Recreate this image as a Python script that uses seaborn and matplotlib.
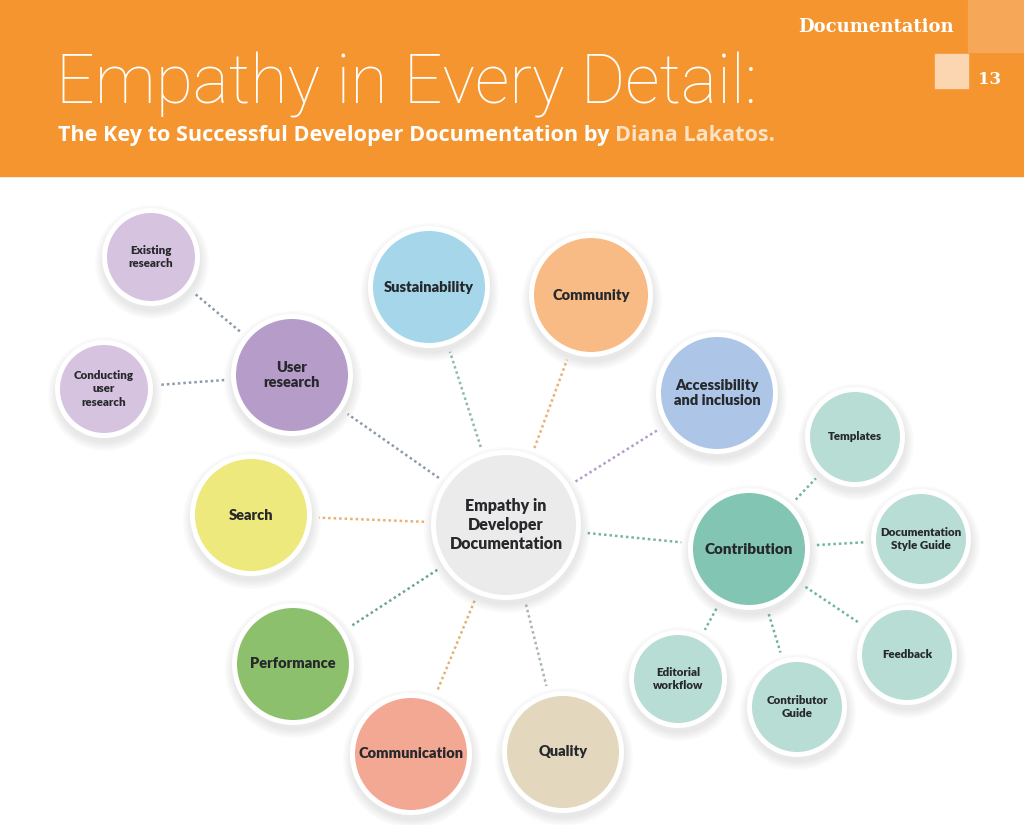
import matplotlib
matplotlib.use("Agg")
import matplotlib.pyplot as plt
from matplotlib.patches import Circle, Rectangle
import seaborn as sns
import numpy as np

sns.set_theme(style="white")
plt.rcParams['font.family'] = ['DejaVu Sans']

# ---- content ----
labels = ["Empathy in\nDeveloper\nDocumentation", "User\nresearch", "Existing\nresearch",
          "Conducting\nuser\nresearch", "Sustainability", "Community",
          "Accessibility\nand inclusion", "Search", "Performance", "Communication",
          "Quality", "Contribution", "Templates", "Documentation\nStyle Guide",
          "Feedback", "Contributor\nGuide", "Editorial\nworkflow"]
parents = [None, 0, 1, 1, 0, 0, 0, 0, 0, 0, 0, 0, 11, 11, 11, 11, 11]
levels = [0, 1, 2, 2, 1, 1, 1, 1, 1, 1, 1, 1, 2, 2, 2, 2, 2]

# ---- layout (pixel coordinates of the page) ----
node_x = [506, 292, 151, 104, 429, 591, 717, 251, 293, 411, 563, 749, 855, 921, 907, 797, 678]
node_y = [525, 375, 257, 389, 287, 295, 393, 515, 664, 754, 752, 549, 437, 539, 655, 707, 679]
node_r = [70, 56, 44, 44, 56, 57, 56, 56, 56, 56, 56, 56, 45, 45, 45, 45, 44]
fills = ["#ebebeb", "#b59cc9", "#d6c3e0", "#d6c3e0", "#a6d6ea", "#f8bb86", "#adc6e8",
         "#ede97c", "#8dc06d", "#f2a893", "#e3d8bd", "#82c5b3", "#b7ddd5", "#b7ddd5",
         "#b7ddd5", "#b7ddd5", "#b7ddd5"]
edge_cols = [None, "#8a9aaa", "#8a9aaa", "#8a9aaa", "#8fb8b5", "#eab071", "#b49ad0",
             "#eab071", "#6ea39a", "#e3b072", "#a9b5b5", "#74b3a6", "#6fb3a6", "#6fb3a6",
             "#6fb3a6", "#6fb3a6", "#6fb3a6"]
font_sizes = [11.5, 10.5, 8.3, 8.3, 10.5, 10.5, 10.5, 10.5, 10.5, 10.5, 10.5, 11, 8.3, 8.3, 8.3, 8.3, 8.3]

W, H = 1024, 825
fig = plt.figure(figsize=(W / 100, H / 100), dpi=100)
ax = fig.add_axes([0, 0, 1, 1])
ax.set_xlim(0, W)
ax.set_ylim(H, 0)
ax.set_aspect("equal")
ax.axis("off")
fig.patch.set_facecolor("white")

# ---- header ----
orange = "#f4952f"
ax.add_patch(Rectangle((0, 0), W, 176, color=orange, zorder=1))
ax.add_patch(Rectangle((968, 0), 56, 52, color="#f6a758", zorder=2))
ax.add_patch(Rectangle((935, 54), 33, 34, color="#fbd6b0", zorder=2))
ax.text(954, 27, "Documentation", color="white", fontsize=13, fontweight="bold",
        family="DejaVu Serif", ha="right", va="center", zorder=3)
ax.text(990, 80, "13", color="white", fontsize=12, fontweight="bold",
        family="DejaVu Serif", ha="center", va="center", zorder=3)
ax.text(56, 103, "Empathy in Every Detail:", color="white", fontsize=49,
        family=["Roboto", "DejaVu Sans"], fontweight="light", ha="left",
        va="baseline", zorder=3)
sub = ax.text(58, 141, "The Key to Successful Developer Documentation by ", color="white",
              fontsize=15.6, fontweight="bold", family=["Open Sans", "DejaVu Sans"],
              ha="left", va="baseline", zorder=3)
fig.canvas.draw()
bb = sub.get_window_extent().transformed(ax.transData.inverted())
ax.text(bb.x1, 141, "Diana Lakatos.", color="#fde2c4", fontsize=15.6, fontweight="bold",
        family=["Open Sans", "DejaVu Sans"], ha="left", va="baseline", zorder=3)

# ---- edges ----
for i, p in enumerate(parents):
    if p is None:
        continue
    x0, y0, r0 = node_x[p], node_y[p], node_r[p]
    x1, y1, r1 = node_x[i], node_y[i], node_r[i]
    d = np.hypot(x1 - x0, y1 - y0)
    ux, uy = (x1 - x0) / d, (y1 - y0) / d
    g = 12
    ax.plot([x0 + ux * (r0 + g), x1 - ux * (r1 + g)],
            [y0 + uy * (r0 + g), y1 - uy * (r1 + g)],
            linestyle=(0, (1, 1.2)), linewidth=1.8, color=edge_cols[i], zorder=2)

# ---- nodes ----
for i in range(len(labels)):
    x, y, r = node_x[i], node_y[i], node_r[i]
    for k in range(6):
        ax.add_patch(Circle((x + 1, y + 5), r + 5 + k * 1.6, color="#8c8c8c",
                            alpha=0.03, lw=0, zorder=3))
    ax.add_patch(Circle((x, y), r + 5, color="white", lw=0, zorder=4))
    ax.add_patch(Circle((x, y), r, color=fills[i], lw=0, zorder=5))
    ax.text(x, y, labels[i], ha="center", va="center", fontsize=font_sizes[i],
            fontweight="heavy", color="#26282b", linespacing=1.25,
            family=["Lato", "DejaVu Sans"], zorder=6)

fig.savefig("out.png", dpi=100, facecolor="white")
